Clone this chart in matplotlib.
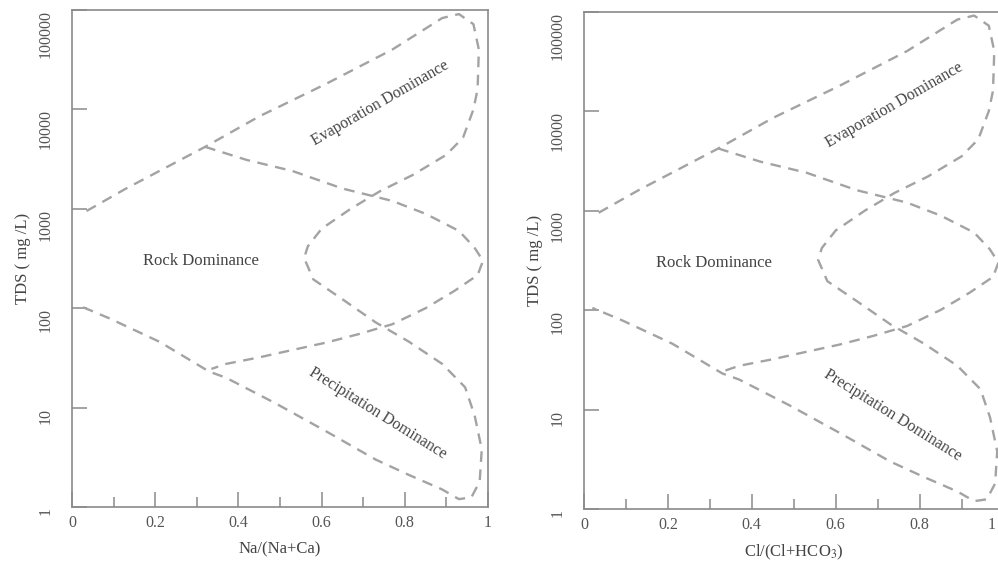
import numpy as np
import matplotlib
matplotlib.use("Agg")
import matplotlib.pyplot as plt
from matplotlib.ticker import FixedLocator, NullLocator

plt.rcParams['font.family'] = ['Liberation Serif', 'DejaVu Serif']
plt.rcParams['mathtext.fontset'] = 'stix'

# Gibbs boundary: outer envelope (upper arm -> right notch -> lower arm)
envelope_x = [0.035, 0.13, 0.21, 0.32, 0.45, 0.61, 0.77, 0.89, 0.93, 0.965,
              0.978, 0.975, 0.965, 0.94, 0.90, 0.82, 0.74, 0.67, 0.60, 0.567,
              0.558, 0.58, 0.65, 0.73, 0.81, 0.89, 0.945, 0.968, 0.985, 0.98,
              0.96, 0.93, 0.89, 0.81, 0.73, 0.61, 0.49, 0.37, 0.33, 0.21,
              0.09, 0.02]
envelope_tds = [950, 1600, 2400, 4200, 8500, 18000, 40000, 83000, 91000, 72000,
                40000, 16000, 10000, 5200, 3500, 2200, 1500, 1000, 630, 420,
                320, 195, 123, 72, 46, 27.5, 16, 8.3, 3.8, 1.8,
                1.25, 1.2, 1.5, 2.1, 3.0, 5.8, 11, 20, 23, 46,
                79, 105]

# inner boundary of the rock dominance field
rock_x = [0.32, 0.42, 0.53, 0.65, 0.77, 0.85, 0.93, 0.967, 0.988, 0.975,
          0.92, 0.85, 0.77, 0.69, 0.61, 0.53, 0.45, 0.37, 0.335]
rock_tds = [4200, 3100, 2400, 1600, 1200, 890, 600, 410, 300, 215,
            150, 100, 69, 55, 45, 38, 32, 27.5, 24.5]

y_ticks = [1, 10, 100, 1000, 10000, 100000]
y_ticklabels = ['1', '10', '100', '1000', '10000', '100000']
x_ticks = [0, 0.2, 0.4, 0.6, 0.8, 1]
x_ticklabels = ['0', '0.2', '0.4', '0.6', '0.8', '1']

panels = [
    {'xlabel': 'Na/(Na+Ca)', 'rect': [72/998, 60/567, 416/998, 497/567]},
    {'xlabel': r'Cl/(Cl+HCO$_3$)', 'rect': [584/998, 58/567, 419.5/998, 497.5/567]},
]

line_col = '#a3a3a3'
axis_col = '#8a8a8a'
text_col = '#444444'
tick_col = '#555555'

fig = plt.figure(figsize=(9.98, 5.67), dpi=100)

for i, p in enumerate(panels):
    ax = fig.add_axes(p['rect'])
    ax.set_yscale('log')
    ax.set_xlim(0, 1)
    ax.set_ylim(1, 100000)

    dash = (0, (4.5, 3.2))
    ax.plot(envelope_x, envelope_tds, color=line_col, lw=1.7, linestyle=dash)
    ax.plot(rock_x, rock_tds, color=line_col, lw=1.7, linestyle=dash)

    ax.text(0.74, 11500, 'Evaporation Dominance', rotation=30, ha='center',
            va='center', fontsize=11.5, color=text_col, rotation_mode='anchor')
    ax.text(0.31, 300, 'Rock Dominance', ha='center', va='center',
            fontsize=12, color=text_col)
    ax.text(0.735, 8.7, 'Precipitation Dominance', rotation=-32, ha='center',
            va='center', fontsize=11.5, color=text_col, rotation_mode='anchor')

    for s in ax.spines.values():
        s.set_color(axis_col)
        s.set_linewidth(1.2)

    labels = list(x_ticklabels)
    if i == 1:
        # this panel runs off the figure edge: pull its last label inside
        labels[-1] = ''
        ax.annotate(x_ticklabels[-1], xy=(x_ticks[-1], 0),
                    xycoords=('data', 'axes fraction'), xytext=(-5.5, -6),
                    textcoords='offset points', ha='right', va='top',
                    fontsize=11.5, color=tick_col, annotation_clip=False)

    ax.xaxis.set_major_locator(FixedLocator(x_ticks))
    ax.xaxis.set_minor_locator(FixedLocator([0.1, 0.3, 0.5, 0.7, 0.9]))
    ax.set_xticklabels(labels)
    ax.yaxis.set_major_locator(FixedLocator(y_ticks))
    ax.yaxis.set_minor_locator(NullLocator())
    ax.set_yticklabels(y_ticklabels, rotation=90, va='top')

    ax.tick_params(which='major', direction='in', length=11, width=1.1,
                   color=axis_col, labelsize=11.5, labelcolor=tick_col)
    ax.tick_params(axis='x', which='major', pad=6)
    ax.tick_params(axis='y', which='major', pad=13)
    ax.tick_params(which='minor', direction='in', length=7, width=1.1,
                   color=axis_col)

    ax.set_xlabel(p['xlabel'], fontsize=12, color=text_col, labelpad=7)
    ax.set_ylabel('TDS ( mg /L)', fontsize=12, color=text_col, labelpad=5)

fig.savefig('out.png', dpi=100)
